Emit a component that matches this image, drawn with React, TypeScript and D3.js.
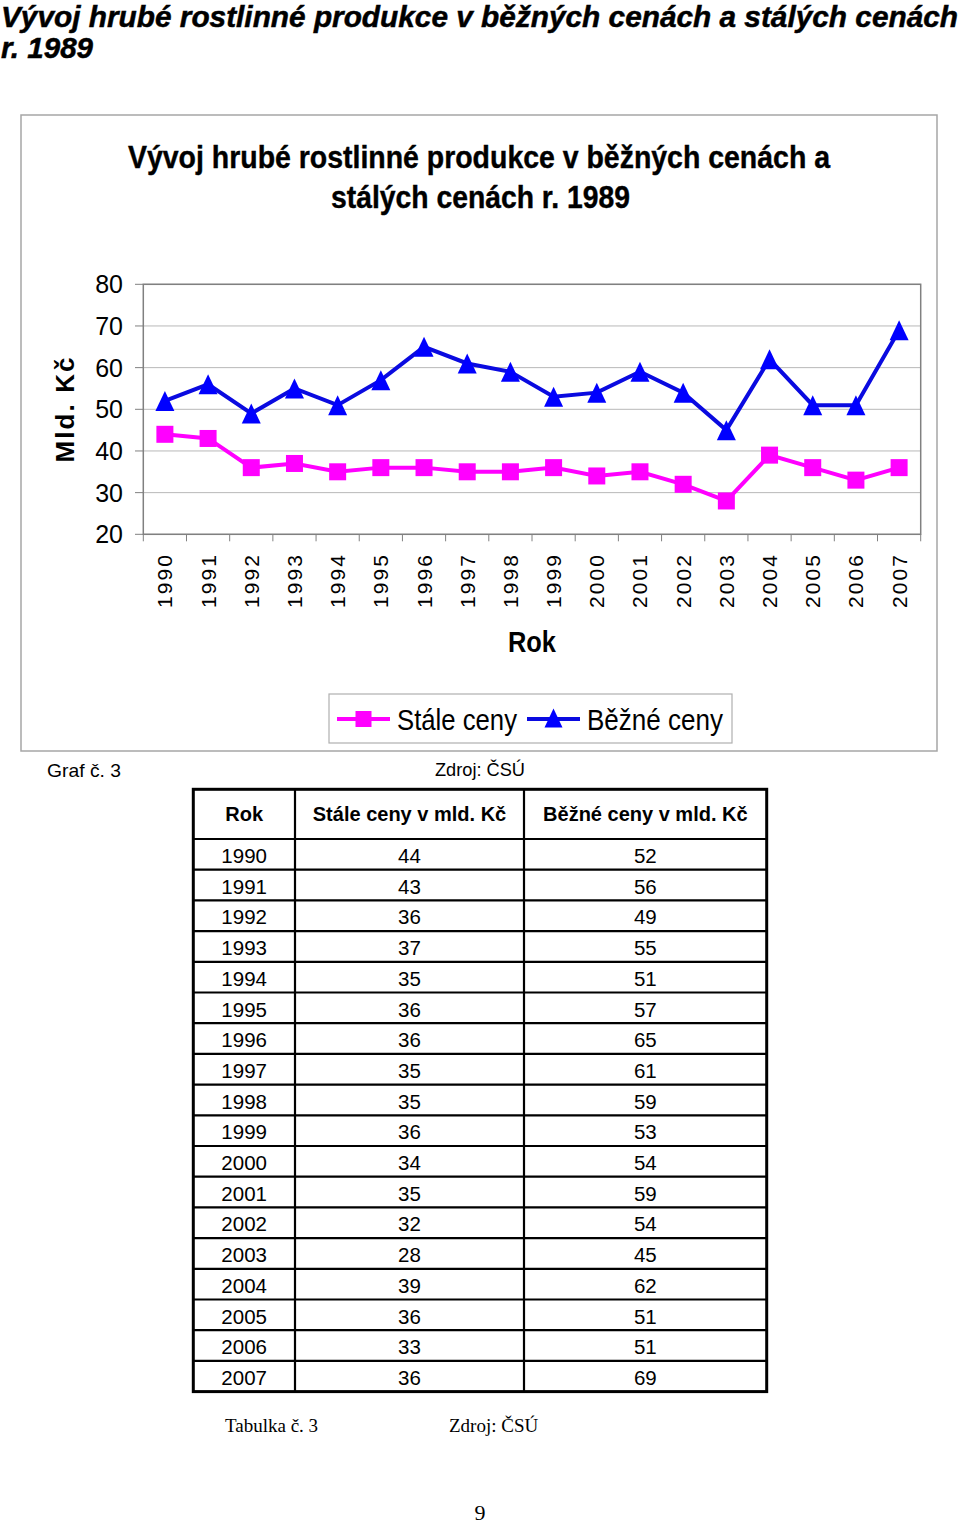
import React from "react";
import * as d3 from "d3";

const years = ["1990","1991","1992","1993","1994","1995","1996","1997","1998","1999","2000","2001","2002","2003","2004","2005","2006","2007"];
const staleCeny = [44,43,36,37,35,36,36,35,35,36,34,35,32,28,39,36,33,36];
const bezneCeny = [52,56,49,55,51,57,65,61,59,53,54,59,54,45,62,51,51,69];
const yTicks = [20,30,40,50,60,70,80];
const seriesNames = ["Stále ceny","Běžné ceny"];
const tableHeaders = ["Rok","Stále ceny v mld. Kč","Běžné ceny v mld. Kč"];

const ARIAL = "'Liberation Sans', Arial, sans-serif";
const NARROW = "'Liberation Sans Narrow', 'Liberation Sans', Arial, sans-serif";
const TIMES = "'Liberation Serif', 'Times New Roman', serif";
const MAGENTA = "#FF00FF";
const BLUE = "#0000FF";
const BLUE_LINE = "#0a0ae0";

const PL = 143.3, PR = 920.7, PT = 284.3, PB = 534.3;

const x = d3.scaleBand<string>().domain(years).range([PL, PR]);
const y = d3.scaleLinear().domain([20, 80]).range([PB, PT]);
const cx = (i: number) => (x(years[i]) as number) + x.bandwidth() / 2;

const lineGen = d3.line<number>().x((_, i) => cx(i)).y((d) => y(d));

const TW = 19, TH = 20, SQ = 17;
const triPath = (w: number, h: number) => `M0,${-h / 2}L${w / 2},${h / 2}L${-w / 2},${h / 2}Z`;

// table layout
const colX = [193.3, 295, 524, 766.7];
const tTop = 789.3, headH = 49.7, rowH = 30.7;
const tBottom = tTop + headH + rowH * years.length;

export default function App() {
  const boundaries = [...years.map((yr) => x(yr) as number), PR];
  return (
    <svg width={960} height={1525} style={{ position: "absolute", left: 0, top: 0, background: "#fff" }}>
      <rect x={0} y={0} width={960} height={1525} fill="#fff" />
      {/* page title */}
      <text x={1} y={27} fontFamily={NARROW} fontWeight="bold" fontStyle="italic" fontSize={30}
        stroke="#000" strokeWidth={0.5}
        textLength={957} lengthAdjust="spacingAndGlyphs">Vývoj hrubé rostlinné produkce v běžných cenách a stálých cenách</text>
      <text x={1} y={58} fontFamily={NARROW} fontWeight="bold" fontStyle="italic" fontSize={30}
        stroke="#000" strokeWidth={0.5}
        textLength={92} lengthAdjust="spacingAndGlyphs">r. 1989</text>

      {/* chart frame */}
      <rect x={21} y={115} width={916} height={636} fill="#fff" stroke="#a6a6a6" strokeWidth={1.5} />
      <text x={479} y={168} textAnchor="middle" fontFamily={NARROW} fontWeight="bold" fontSize={31}
        stroke="#000" strokeWidth={0.4}
        textLength={702} lengthAdjust="spacingAndGlyphs">Vývoj hrubé rostlinné produkce v běžných cenách a</text>
      <text x={480.5} y={208} textAnchor="middle" fontFamily={NARROW} fontWeight="bold" fontSize={31}
        stroke="#000" strokeWidth={0.4}
        textLength={299} lengthAdjust="spacingAndGlyphs">stálých cenách r. 1989</text>

      {/* plot area */}
      <rect x={PL} y={PT} width={PR - PL} height={PB - PT} fill="#fff" />
      {yTicks.map((t) => (
        <g key={t}>
          <line x1={PL} x2={PR} y1={y(t)} y2={y(t)} stroke="#b8b8b8" strokeWidth={1} />
          <line x1={135} x2={PL} y1={y(t)} y2={y(t)} stroke="#808080" strokeWidth={1} />
          <text x={123} y={y(t)} dy="0.36em" textAnchor="end" fontFamily={ARIAL} fontSize={25}>{t}</text>
        </g>
      ))}
      <rect x={PL} y={PT} width={PR - PL} height={PB - PT} fill="none" stroke="#808080" strokeWidth={1.5} />
      {boundaries.map((bx, i) => (
        <line key={i} x1={bx} x2={bx} y1={PB} y2={PB + 7} stroke="#808080" strokeWidth={1} />
      ))}
      {years.map((yr, i) => (
        <text key={yr} transform={`translate(${cx(i) + 7.5},555) rotate(-90)`} textAnchor="end"
          fontFamily={ARIAL} fontSize={21} textLength={53} lengthAdjust="spacing">{yr}</text>
      ))}
      <text transform="translate(74,410) rotate(-90)" textAnchor="middle" fontFamily={ARIAL} fontWeight="bold"
        fontSize={26} textLength={105} lengthAdjust="spacing">Mld. Kč</text>
      <text x={532} y={652} textAnchor="middle" fontFamily={NARROW} fontWeight="bold" fontSize={29}
        textLength={48} lengthAdjust="spacingAndGlyphs">Rok</text>

      {/* series */}
      <path d={lineGen(staleCeny) || ""} fill="none" stroke={MAGENTA} strokeWidth={4} />
      {staleCeny.map((v, i) => (
        <rect key={i} x={cx(i) - SQ / 2} y={y(v) - SQ / 2} width={SQ} height={SQ} fill={MAGENTA} />
      ))}
      <path d={lineGen(bezneCeny) || ""} fill="none" stroke={BLUE_LINE} strokeWidth={4} />
      {bezneCeny.map((v, i) => (
        <path key={i} transform={`translate(${cx(i)},${y(v)})`} d={triPath(TW, TH)} fill={BLUE} />
      ))}

      {/* legend */}
      <rect x={329} y={694} width={403} height={49} fill="#fff" stroke="#b0b0b0" strokeWidth={1.2} />
      <line x1={337} x2={390} y1={719} y2={719} stroke={MAGENTA} strokeWidth={4} />
      <rect x={363.5 - 8} y={719 - 8} width={16} height={16} fill={MAGENTA} />
      <text x={397} y={730} fontFamily={NARROW} fontSize={29} textLength={120} lengthAdjust="spacingAndGlyphs">{seriesNames[0]}</text>
      <line x1={527} x2={580} y1={719} y2={719} stroke={BLUE_LINE} strokeWidth={4} />
      <path transform="translate(553.5,718)" d={triPath(18, 19)} fill={BLUE} />
      <text x={587} y={730} fontFamily={NARROW} fontSize={29} textLength={136} lengthAdjust="spacingAndGlyphs">{seriesNames[1]}</text>

      <text x={47} y={777} fontFamily={NARROW} fontSize={19} textLength={74} lengthAdjust="spacingAndGlyphs">Graf č. 3</text>
      <text x={435} y={776} fontFamily={NARROW} fontSize={19} textLength={90} lengthAdjust="spacingAndGlyphs">Zdroj: ČSÚ</text>

      {/* table */}
      {tableHeaders.map((h, c) => (
        <text key={h} x={(colX[c] + colX[c + 1]) / 2} y={tTop + 32} textAnchor="middle" fontFamily={ARIAL}
          fontWeight="bold" fontSize={20}>{h}</text>
      ))}
      {years.map((yr, r) => {
        const ry = tTop + headH + r * rowH;
        const vals = [yr, String(staleCeny[r]), String(bezneCeny[r])];
        return (
          <g key={yr}>
            {vals.map((v, c) => (
              <text key={c} x={(colX[c] + colX[c + 1]) / 2} y={ry + 24} textAnchor="middle" fontFamily={ARIAL} fontSize={20.5}>{v}</text>
            ))}
            <line x1={colX[0]} x2={colX[3]} y1={ry} y2={ry} stroke="#000" strokeWidth={2.2} />
          </g>
        );
      })}
      {colX.slice(1, 3).map((cxv, i) => (
        <line key={i} x1={cxv} x2={cxv} y1={tTop} y2={tBottom} stroke="#000" strokeWidth={2.2} />
      ))}
      <rect x={colX[0]} y={tTop} width={colX[3] - colX[0]} height={tBottom - tTop} fill="none" stroke="#000" strokeWidth={3} />

      <text x={225} y={1432} fontFamily={TIMES} fontSize={19}>Tabulka č. 3</text>
      <text x={449} y={1432} fontFamily={TIMES} fontSize={19}>Zdroj: ČSÚ</text>
      <text x={480} y={1520} textAnchor="middle" fontFamily={TIMES} fontSize={22}>9</text>
    </svg>
  );
}
